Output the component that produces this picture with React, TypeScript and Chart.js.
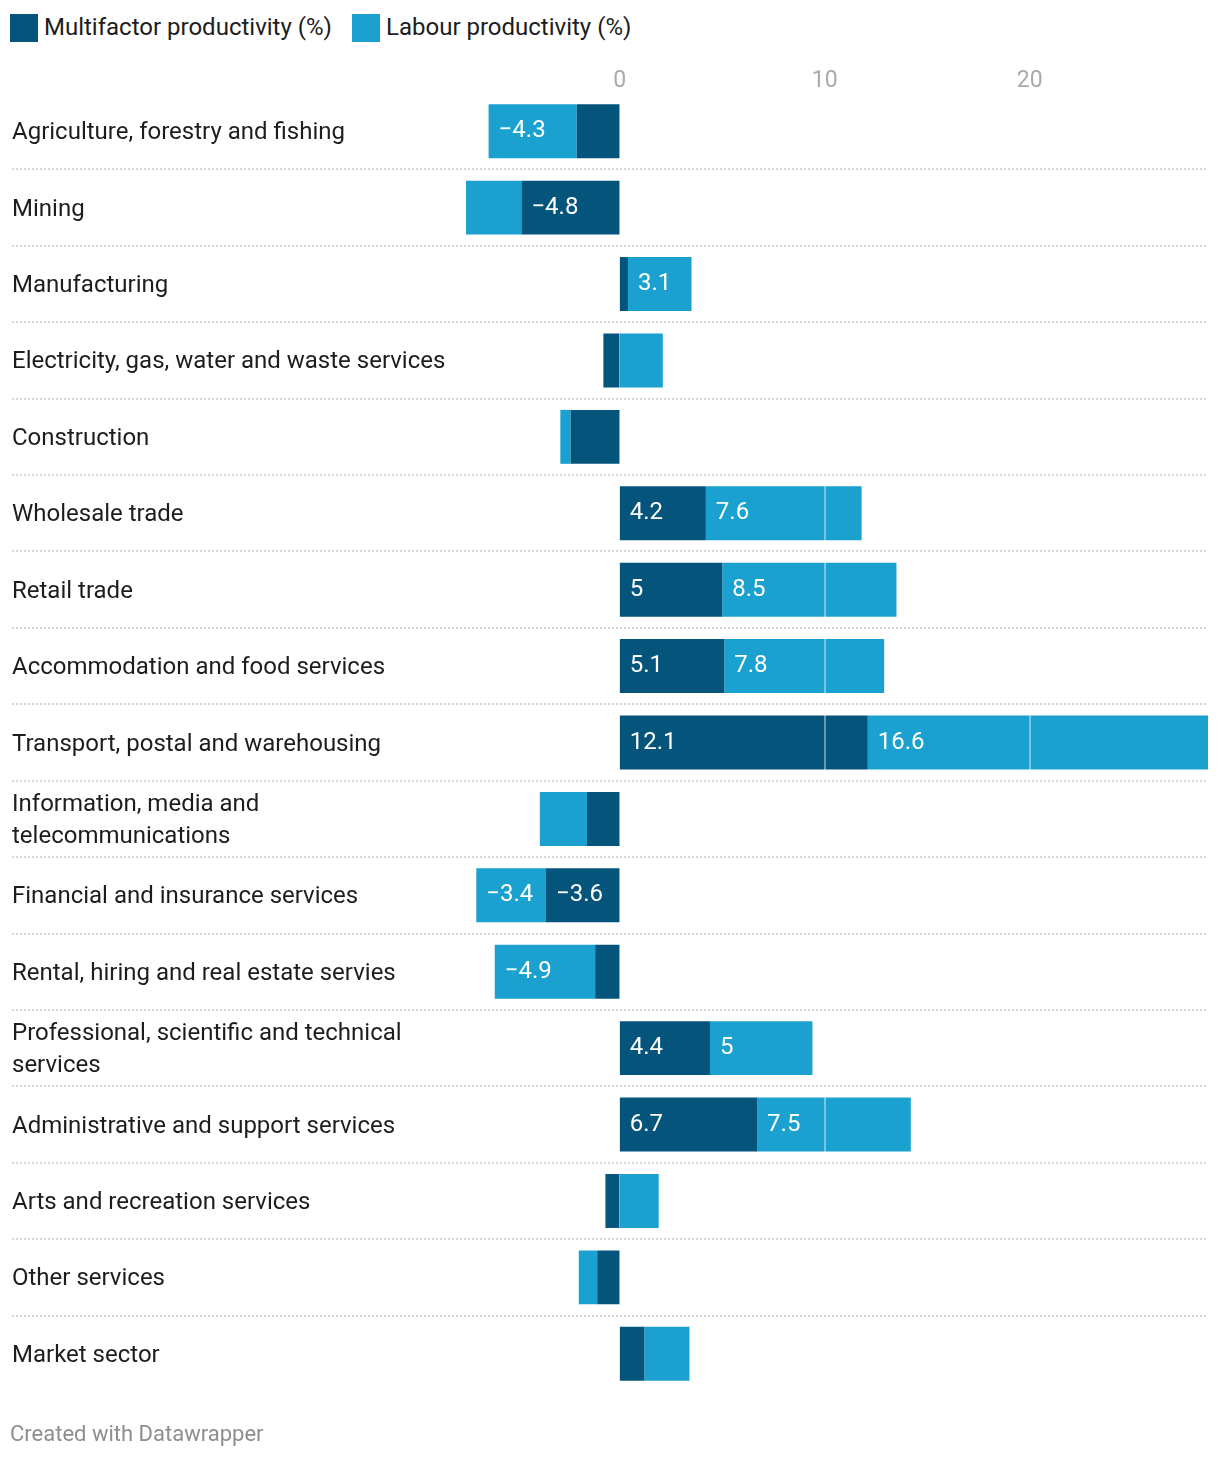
import React, { useEffect, useRef } from "react";
import { Chart, registerables } from "chart.js";

Chart.register(...registerables);

const categories: (string | string[])[] = [
  "Agriculture, forestry and fishing",
  "Mining",
  "Manufacturing",
  "Electricity, gas, water and waste services",
  "Construction",
  "Wholesale trade",
  "Retail trade",
  "Accommodation and food services",
  "Transport, postal and warehousing",
  ["Information, media and", "telecommunications"],
  "Financial and insurance services",
  "Rental, hiring and real estate servies",
  ["Professional, scientific and technical", "services"],
  "Administrative and support services",
  "Arts and recreation services",
  "Other services",
  "Market sector",
];

const multifactor = [-2.1, -4.8, 0.4, -0.8, -2.4, 4.2, 5, 5.1, 12.1, -1.6, -3.6, -1.2, 4.4, 6.7, -0.7, -1.1, 1.2];
const labour = [-4.3, -2.7, 3.1, 2.1, -0.5, 7.6, 8.5, 7.8, 16.6, -2.3, -3.4, -4.9, 5, 7.5, 1.9, -0.9, 2.2];
const seriesNames = ["Multifactor productivity (%)", "Labour productivity (%)"];
const xTicks = [0, 10, 20];

const DARK = "#04547c";
const LIGHT = "#1aa1cf";
const FONT = "Roboto, 'Noto Sans', sans-serif";

const fmt = (v: number) => (v < 0 ? "\u2212" + String(Math.abs(v)) : String(v));

const decor = {
  id: "decor",
  afterDatasetsDraw(chart: any) {
    const { ctx, chartArea, scales } = chart;
    const x = scales.x;
    const y = scales.y;
    ctx.save();
    // white gridlines over bars
    xTicks.forEach((v) => {
      const px = x.getPixelForValue(v);
      ctx.strokeStyle = "rgba(255,255,255,0.4)";
      ctx.lineWidth = v === 0 ? 1 : 2;
      const xx = v === 0 ? Math.round(px) - 0.5 : Math.round(px);
      ctx.beginPath();
      ctx.moveTo(xx, chartArea.top);
      ctx.lineTo(xx, chartArea.bottom);
      ctx.stroke();
    });
    // dotted row separators
    ctx.setLineDash([2, 2]);
    ctx.strokeStyle = "#d6d6d6";
    ctx.lineWidth = 2;
    for (let i = 0; i < categories.length - 1; i++) {
      const yy = Math.round((y.getPixelForValue(i) + y.getPixelForValue(i + 1)) / 2);
      ctx.beginPath();
      ctx.moveTo(12, yy);
      ctx.lineTo(chartArea.right, yy);
      ctx.stroke();
    }
    ctx.setLineDash([]);
    // value labels
    ctx.font = "24px " + FONT;
    ctx.fillStyle = "#ffffff";
    ctx.textBaseline = "middle";
    ctx.textAlign = "left";
    chart.data.datasets.forEach((ds: any, di: number) => {
      const meta = chart.getDatasetMeta(di);
      meta.data.forEach((el: any, i: number) => {
        const v = ds.data[i] as number;
        if (Math.abs(v) < 3) return;
        const left = Math.min(el.x, el.base);
        ctx.fillText(fmt(v), left + 10, el.y);
      });
    });
    // x tick labels at top
    ctx.font = "23px " + FONT;
    ctx.fillStyle = "#aaaaaa";
    ctx.textAlign = "center";
    xTicks.forEach((v) => ctx.fillText(String(v), x.getPixelForValue(v), 81));
    ctx.restore();
  },
};

export default function App() {
  const ref = useRef<HTMLCanvasElement | null>(null);

  useEffect(() => {
    if (!ref.current) return;
    const chart = new Chart(ref.current, {
      type: "bar",
      data: {
        labels: categories as any,
        datasets: [
          {
            label: seriesNames[0],
            data: multifactor,
            backgroundColor: DARK,
            borderWidth: 0,
            barPercentage: 0.706,
            categoryPercentage: 1,
          },
          {
            label: seriesNames[1],
            data: labour,
            backgroundColor: LIGHT,
            borderWidth: 0,
            barPercentage: 0.706,
            categoryPercentage: 1,
          },
        ],
      },
      options: {
        indexAxis: "y",
        responsive: false,
        animation: false,
        devicePixelRatio: 1,
        layout: { padding: { top: 93, bottom: 66, left: 12, right: 12 } },
        plugins: {
          legend: { display: false },
          tooltip: { enabled: false },
        },
        scales: {
          x: {
            display: false,
            stacked: true,
            min: -7.6,
            max: 28.7,
          },
          y: {
            stacked: true,
            grid: { display: false },
            border: { display: false },
            afterFit: (scale: any) => {
              scale.width = 452;
            },
            ticks: {
              crossAlign: "far",
              color: "#1d1d1d",
              padding: 0,
              labelOffset: 2,
              font: { family: FONT, size: 24, lineHeight: 1.35 },
            },
          },
        },
      },
      plugins: [decor],
    });
    return () => chart.destroy();
  }, []);

  return (
    <div style={{ position: "absolute", left: 0, top: 0, width: 1220, height: 1458, background: "#fff", fontFamily: FONT }}>
      <div style={{ position: "absolute", left: 10, top: 14, width: 28, height: 28, background: DARK }} />
      <div style={{ position: "absolute", left: 44, top: 13, height: 28, lineHeight: "28px", fontSize: 24, color: "#1d1d1d", whiteSpace: "nowrap" }}>
        {seriesNames[0]}
      </div>
      <div style={{ position: "absolute", left: 352, top: 14, width: 28, height: 28, background: LIGHT }} />
      <div style={{ position: "absolute", left: 386, top: 13, height: 28, lineHeight: "28px", fontSize: 24, color: "#1d1d1d", whiteSpace: "nowrap" }}>
        {seriesNames[1]}
      </div>
      <canvas ref={ref} width={1220} height={1458} style={{ position: "absolute", left: 0, top: 0, width: 1220, height: 1458 }} />
      <div style={{ position: "absolute", left: 10, top: 1421, lineHeight: "26px", fontSize: 22, color: "#8e8e8e", whiteSpace: "nowrap" }}>
        Created with Datawrapper
      </div>
    </div>
  );
}
